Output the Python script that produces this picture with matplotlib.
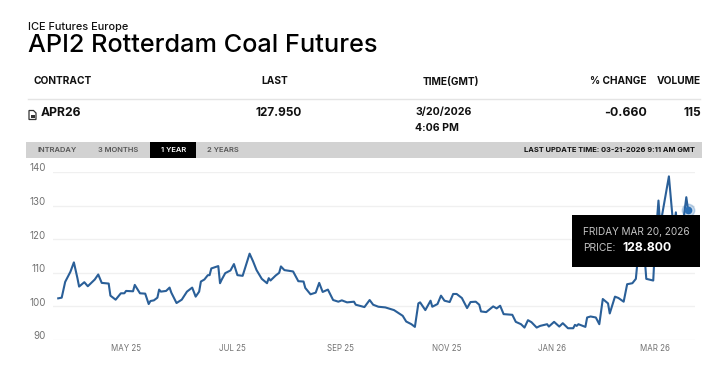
import datetime as dt

import matplotlib
matplotlib.use('Agg')
import matplotlib.pyplot as plt
from matplotlib.patches import Polygon, Rectangle
from matplotlib.transforms import ScaledTranslation

plt.rcParams['font.family'] = ['Inter', 'DejaVu Sans']

WIDTH, HEIGHT = 720, 379

# days since the first trading day in the chart
first_day = dt.date(2025, 3, 23)
day_offsets = [
    0, 2, 4, 7, 9, 11, 12, 15, 17, 19, 21, 23, 25, 29, 30, 33, 36, 38, 39, 43,
    44, 47, 50, 52, 53, 55, 57, 58, 59, 62, 64, 65, 68, 71, 74, 77, 79, 81, 82, 84,
    86, 87, 88, 92, 93, 94, 96, 99, 101, 103, 106, 110, 112, 114, 117, 120, 121, 122, 125, 127,
    128, 130, 135, 138, 141, 142, 145, 148, 150, 152, 155, 158, 161, 163, 166, 170, 171, 176, 179, 181,
    184, 188, 193, 198, 200, 203, 205, 207, 208, 211, 214, 215, 218, 220, 222, 225, 227, 229, 232, 235,
    237, 240, 242, 243, 246, 250, 252, 254, 256, 261, 263, 266, 268, 270, 272, 275, 277, 281, 282, 285,
    288, 290, 293, 296, 297, 298, 299, 303, 304, 306, 309, 311, 313, 316, 317, 320, 322, 325, 327, 330,
    332, 333, 336, 338, 342, 343, 345, 346, 351, 353, 354, 355, 356, 358, 361, 362,
]
prices = [
    102.4, 102.6, 107.3, 110.3, 113.1, 108.5, 105.9, 107.2, 106.0, 107.0, 108.0, 109.5, 107.0, 106.8, 103.2, 102.0, 103.9, 103.9, 104.6, 104.5,
    106.4, 103.9, 103.8, 100.7, 101.6, 101.8, 102.6, 105.0, 104.4, 104.6, 105.6, 104.1, 101.0, 102.0, 104.4, 105.6, 102.9, 104.4, 107.4, 108.0,
    109.3, 109.3, 111.3, 112.0, 106.9, 108.0, 109.9, 110.7, 112.6, 109.3, 109.1, 115.7, 113.4, 110.8, 108.2, 106.9, 108.4, 107.7, 109.2, 110.0,
    111.9, 110.8, 110.4, 107.5, 107.4, 105.5, 103.6, 104.1, 107.0, 104.3, 105.0, 101.9, 101.4, 101.8, 101.2, 101.4, 100.5, 99.8, 101.9, 100.5,
    99.9, 99.7, 98.9, 97.2, 95.5, 94.7, 93.9, 100.9, 101.2, 98.9, 101.7, 99.9, 100.7, 103.2, 101.7, 101.3, 103.7, 103.7, 102.5, 99.5,
    101.3, 101.4, 100.5, 98.5, 98.3, 100.0, 99.4, 100.2, 97.7, 97.5, 95.4, 94.7, 93.7, 95.9, 95.3, 93.7, 94.2, 94.7, 94.0, 95.4,
    94.0, 95.0, 93.5, 93.5, 94.5, 94.2, 94.7, 93.9, 96.7, 97.0, 96.7, 94.7, 102.2, 100.9, 97.9, 102.9, 102.5, 101.4, 106.6, 106.9,
    108.2, 113.6, 122.0, 108.2, 107.7, 118.0, 131.5, 124.0, 138.7, 127.0, 124.0, 128.0, 122.0, 120.0, 132.5, 128.8,
]
dates = [first_day + dt.timedelta(days=d) for d in day_offsets]

y_ticks = [90, 100, 110, 120, 130, 140]
x_tick_dates = [dt.date(2025, 5, 1), dt.date(2025, 7, 1), dt.date(2025, 9, 1),
                dt.date(2025, 11, 1), dt.date(2026, 1, 1), dt.date(2026, 3, 1)]
x_tick_labels = ['MAY 25', 'JUL 25', 'SEP 25', 'NOV 25', 'JAN 26', 'MAR 26']

fig = plt.figure(figsize=(WIDTH / 100, HEIGHT / 100), dpi=100, facecolor='white')

# price chart, placed in pixel terms
left, right, top, bottom = 53, 695, 172, 340
ax = fig.add_axes([left / WIDTH, 1 - bottom / HEIGHT, (right - left) / WIDTH, (bottom - top) / HEIGHT])
ax.plot(dates, prices, color='#2a5f98', linewidth=1.5, solid_joinstyle='round', zorder=3)
ax.plot(dates[-1], prices[-1], 'o', color='#2a6fb5', markersize=4.5, zorder=4)
ax.plot(dates[-1], prices[-1], 'o', color='#2a6fb5', markersize=9, alpha=0.25, zorder=4)

ax.set_ylim(90, 140)
ax.set_xlim(dt.date(2025, 3, 20), dt.date(2026, 3, 24))
ax.set_xticks(x_tick_dates)
ax.set_xticklabels(x_tick_labels)
ax.set_yticks(y_ticks)
ax.tick_params(length=0, labelcolor='#727272')
ax.tick_params(axis='x', pad=3, labelsize=5.7)
ax.tick_params(axis='y', pad=5, labelsize=7)
for label in ax.get_yticklabels():
    label.set_transform(label.get_transform() + ScaledTranslation(0, 4.5 / 100, fig.dpi_scale_trans))
ax.grid(axis='y', color='#f0f0f0', linewidth=1)
for spine in ax.spines.values():
    spine.set_visible(False)

# page furniture around the chart, drawn on a pixel-scaled overlay
page = fig.add_axes([0, 0, 1, 1], zorder=5)
page.set_xlim(0, WIDTH)
page.set_ylim(HEIGHT, 0)
page.axis('off')
page.patch.set_alpha(0)


def put(x, y, s, size=7.5, weight='normal', color='#111111', ha='left'):
    page.text(x, y, s, fontsize=size, fontweight=weight, color=color, ha=ha, va='center')


put(28, 26.5, 'ICE Futures Europe', size=7.9, weight='medium')
put(28, 45, 'API2 Rotterdam Coal Futures', size=18.2, weight='medium', color='#000000')

for x, s in [(33, 'CONTRACT'), (261, 'LAST'), (423, 'TIME(GMT)'), (590, '% CHANGE'), (657, 'VOLUME')]:
    put(x, 81.5, s, size=7.3, weight='bold')
page.plot([28, 700], [99, 99], color='#e4e4e4', linewidth=1)

# little file icon beside the contract name
page.add_patch(Polygon([(29, 110.5), (33.5, 110.5), (36, 113), (36, 119.5), (29, 119.5)],
                       closed=True, fill=False, edgecolor='#333333', linewidth=0.9))
page.add_patch(Rectangle((30.5, 115), 4, 3, facecolor='#333333', edgecolor='none'))
put(41, 113, 'APR26', size=8.8, weight='bold')
put(255, 113, '127.950', size=8.5, weight='bold')
put(415, 112, '3/20/2026', size=7.6, weight='bold')
put(415, 128, '4:06 PM', size=7.6, weight='bold')
put(604, 113, '-0.660', size=8.9, weight='bold')
put(683, 113, '115', size=8.6, weight='bold')

page.add_patch(Rectangle((26, 142), 676, 16, facecolor='#d2d2d2', edgecolor='none'))
page.add_patch(Rectangle((150, 142), 46, 16, facecolor='#000000', edgecolor='none'))
for x, s, c in [(37, 'INTRADAY', '#555555'), (98, '3 MONTHS', '#555555'),
                (161, '1 YEAR', '#ffffff'), (207, '2 YEARS', '#555555')]:
    put(x, 150.5, s, size=5.4, weight='semibold', color=c)
put(695, 150.5, 'LAST UPDATE TIME: 03-21-2026 9:11 AM GMT', size=5.4, weight='bold', ha='right')

page.add_patch(Rectangle((572, 215), 128, 52, facecolor='#000000', edgecolor='none'))
put(583, 232, 'FRIDAY MAR 20, 2026', size=7.2, color='#c4c4c4')
put(583, 248, 'PRICE:', size=7.4, color='#c4c4c4')
put(622.5, 248, '128.800', size=8.8, weight='bold', color='#ffffff')

fig.savefig('out.png', dpi=100)
